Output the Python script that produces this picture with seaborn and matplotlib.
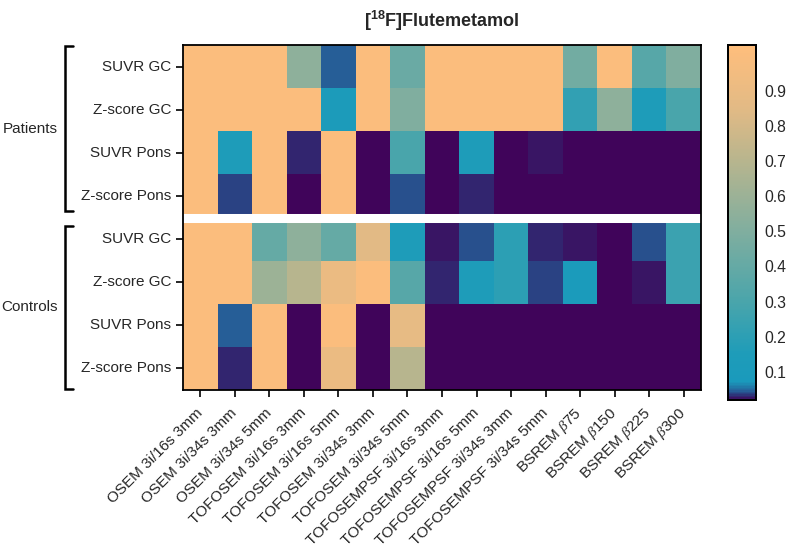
import numpy as np
import pandas as pd
import matplotlib
matplotlib.use("Agg")
import matplotlib.pyplot as plt
import matplotlib.transforms as mtransforms
from matplotlib.colors import LinearSegmentedColormap
import seaborn as sns

# Columns: reconstruction settings
methods = ["OSEM 3i/16s 3mm", "OSEM 3i/34s 3mm", "OSEM 3i/34s 5mm",
           "TOFOSEM 3i/16s 3mm", "TOFOSEM 3i/16s 5mm", "TOFOSEM 3i/34s 3mm",
           "TOFOSEM 3i/34s 5mm", "TOFOSEMPSF 3i/16s 3mm", "TOFOSEMPSF 3i/16s 5mm",
           "TOFOSEMPSF 3i/34s 3mm", "TOFOSEMPSF 3i/34s 5mm",
           r"BSREM $\beta$75", r"BSREM $\beta$150", r"BSREM $\beta$225", r"BSREM $\beta$300"]
measures = ["SUVR GC", "Z-score GC", "SUVR Pons", "Z-score Pons"]
groups = ["Patients", "Controls"]

# values
patients_suvr_gc = [1.0, 1.0, 1.0, 0.55, 0.045, 1.0, 0.42, 1.0, 1.0, 1.0, 1.0, 0.45, 1.0, 0.35, 0.5]
patients_z_gc = [1.0, 1.0, 1.0, 1.0, 0.12, 1.0, 0.5, 1.0, 1.0, 1.0, 1.0, 0.22, 0.55, 0.15, 0.3]
patients_suvr_pons = [1.0, 0.15, 1.0, 0.03, 1.0, 0.0, 0.3, 0.0, 0.15, 0.0, 0.026, 0.0, 0.0, 0.0, 0.0]
patients_z_pons = [1.0, 0.038, 1.0, 0.0, 1.0, 0.0, 0.04, 0.0, 0.03, 0.0, 0.0, 0.0, 0.0, 0.0, 0.0]
controls_suvr_gc = [1.0, 1.0, 0.4, 0.55, 0.4, 0.85, 0.15, 0.024, 0.042, 0.2, 0.028, 0.027, 0.022, 0.042, 0.25]
controls_z_gc = [1.0, 1.0, 0.6, 0.7, 0.9, 1.0, 0.35, 0.03, 0.15, 0.2, 0.037, 0.1, 0.022, 0.027, 0.25]
controls_suvr_pons = [1.0, 0.046, 1.0, 0.0, 1.0, 0.0, 0.88, 0.0, 0.0, 0.0, 0.0, 0.0, 0.0, 0.0, 0.0]
controls_z_pons = [1.0, 0.03, 1.0, 0.0, 0.9, 0.0, 0.7, 0.0, 0.0, 0.0, 0.0, 0.0, 0.0, 0.0, 0.0]

cbar_ticks = [0.1, 0.2, 0.3, 0.4, 0.5, 0.6, 0.7, 0.8, 0.9]

sns.set_style("white")
plt.rcParams["font.family"] = ["Liberation Sans", "DejaVu Sans"]
plt.rcParams["mathtext.fontset"] = "custom"
plt.rcParams["mathtext.rm"] = "Liberation Sans"
plt.rcParams["mathtext.bf"] = "Liberation Sans:bold"
plt.rcParams["mathtext.it"] = "Liberation Serif:italic"

df = pd.DataFrame([patients_suvr_gc, patients_z_gc, patients_suvr_pons, patients_z_pons,
                   controls_suvr_gc, controls_z_gc, controls_suvr_pons, controls_z_pons],
                  index=measures + measures, columns=methods)

# purple -> teal -> beige/orange
vmin, vmax = 0.02, 1.03
stops = [0.02, 0.03, 0.045, 0.07, 0.15, 0.3, 0.5, 0.7, 0.85, 1.03]
colors = ["#40045a", "#2e2e74", "#25629a", "#1a9abc", "#1e9cb9",
          "#4aa5ab", "#80ae9f", "#b7b58e", "#e2ba85", "#ffbe7c"]
cmap = LinearSegmentedColormap.from_list(
    "flute", [((s - vmin) / (vmax - vmin), c) for s, c in zip(stops, colors)])

fig = plt.figure(figsize=(7.87, 5.45), dpi=100)
ax = fig.add_axes([0.2325, 0.2844, 0.6582, 0.633])
cax = fig.add_axes([0.925, 0.266, 0.0356, 0.6514])

sns.heatmap(df, ax=ax, cmap=cmap, vmin=vmin, vmax=vmax, cbar_ax=cax,
            cbar_kws={"ticks": cbar_ticks})

# white gap between the groups
ax.axhline(4, color="white", linewidth=6.5)

for sp in ax.spines.values():
    sp.set_visible(True)
    sp.set_color("black")
    sp.set_linewidth(1.3)
ax.tick_params(axis="both", which="major", direction="out", length=5, width=1.2,
               color="black", left=True, bottom=True, labelsize=11)
ax.tick_params(axis="x", pad=10)
ax.set_yticklabels(measures + measures, rotation=0)
ax.set_xticklabels(methods, rotation=45, ha="right", va="center",
                   rotation_mode="anchor", fontsize=11)
ax.set_xlabel("")
ax.set_ylabel("")

cax.tick_params(left=True, right=True, direction="in", length=4, width=1.2,
                labelsize=11.3, pad=6)
cax.yaxis.set_ticks_position("both")
cax.yaxis.set_label_position("right")
for sp in cax.spines.values():
    sp.set_visible(True)
    sp.set_color("black")
    sp.set_linewidth(1.3)

# group brackets on the left
trans = mtransforms.blended_transform_factory(fig.transFigure, ax.transData)
bx, bt = 65 / 787, 73 / 787
for name, (y0, y1) in zip(groups, [(0.03, 3.85), (4.2, 7.97)]):
    ax.plot([bt, bx, bx, bt], [y0, y0, y1, y1], color="black", lw=1.8,
            transform=trans, clip_on=False, solid_joinstyle="miter")
    ax.text(30 / 787, (y0 + y1) / 2, name, transform=trans, ha="center",
            va="center", fontsize=11)

fig.text(0.561, 0.962, r"[$\mathbf{^{18}}$F]Flutemetamol", ha="center", va="center",
         fontsize=13, fontweight="bold")

fig.savefig("out.png", dpi=100)
